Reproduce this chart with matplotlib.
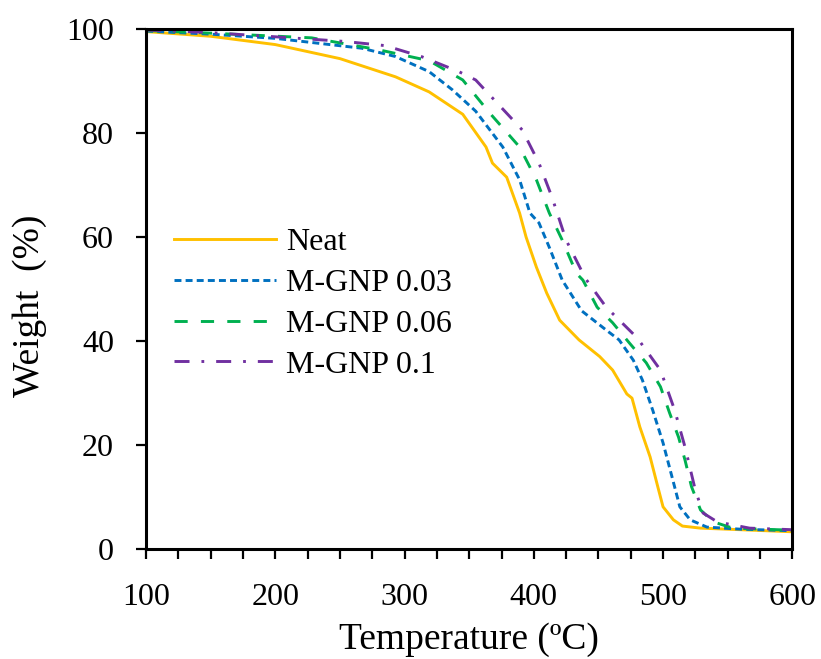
import matplotlib
matplotlib.use("Agg")
import matplotlib.pyplot as plt
from matplotlib.ticker import MultipleLocator

plt.rcParams['font.family'] = ['Liberation Serif', 'DejaVu Serif']
plt.rcParams['lines.scale_dashes'] = False

# Neat
neat_T = [100, 150, 200, 250, 293, 319, 345, 363, 368, 379, 389, 394, 402, 410, 420,
          435, 451, 461, 472, 476, 482, 490, 496, 500, 508, 515, 529, 560, 600]
neat_W = [99.5, 98.6, 97.0, 94.3, 90.8, 87.9, 83.6, 77.3, 74.2, 71.5, 64.6, 60.0, 54.2, 49.2, 44.0,
          40.2, 37.0, 34.4, 29.8, 29.0, 23.5, 17.7, 11.9, 8.1, 5.6, 4.4, 4.0, 3.7, 3.3]

# M-GNP 0.03
g003_T = [100, 150, 200, 267, 293, 319, 337, 355, 376, 389, 397, 404, 412, 422, 437,
          456, 466, 477, 484, 492, 500, 507, 513, 521, 534, 560, 600]
g003_W = [99.6, 99.0, 98.2, 96.3, 94.7, 91.8, 88.3, 84.2, 77.3, 71.0, 64.6, 62.7, 58.0, 51.7, 45.8,
          42.1, 40.2, 36.3, 32.5, 26.7, 20.4, 13.8, 8.1, 5.6, 4.2, 3.8, 3.5]

# M-GNP 0.06
g006_T = [100, 150, 228, 280, 319, 345, 366, 389, 402, 412, 422, 433, 438, 449, 461,
          474, 487, 498, 505, 512, 517, 522, 529, 539, 554, 600]
g006_W = [99.7, 99.2, 98.3, 96.0, 93.9, 90.2, 83.8, 77.3, 71.0, 64.6, 59.4, 53.0, 51.7, 46.5, 43.5,
          39.6, 35.8, 31.2, 26.2, 21.5, 17.1, 12.0, 7.5, 5.2, 4.0, 3.6]

# M-GNP 0.1
g01_T = [100, 150, 200, 254, 285, 313, 342, 355, 379, 391, 404, 414, 425, 440, 456,
         480, 498, 509, 517, 525, 531, 542, 567, 600]
g01_W = [99.8, 99.3, 98.5, 97.6, 96.8, 94.7, 91.8, 90.2, 83.8, 80.6, 74.2, 67.7, 59.4, 52.0, 46.5,
         40.6, 34.4, 26.7, 19.6, 11.3, 6.9, 5.2, 4.0, 3.7]

labels = ['Neat', 'M-GNP 0.03', 'M-GNP 0.06', 'M-GNP 0.1']
colors = ['#FFC000', '#0070C0', '#00B050', '#7030A0']

fig = plt.figure(figsize=(8.21, 6.59), dpi=100)
ax = fig.add_axes([0.178, 0.167, 0.787, 0.789])

lw = 2.1
ax.plot(neat_T, neat_W, color=colors[0], lw=lw, linestyle='-', label=labels[0])
ax.plot(g003_T, g003_W, color=colors[1], lw=lw, linestyle=(0, (5, 3)), label=labels[1])
ax.plot(g006_T, g006_W, color=colors[2], lw=lw, linestyle=(0, (9.5, 9.5)), label=labels[2])
ax.plot(g01_T, g01_W, color=colors[3], lw=lw, linestyle=(0, (10.8, 8.6, 2, 8.6)), label=labels[3])

ax.set_xlim(100, 600)
ax.set_ylim(0, 100)
ax.xaxis.set_major_locator(MultipleLocator(100))
ax.xaxis.set_minor_locator(MultipleLocator(25))
ax.yaxis.set_major_locator(MultipleLocator(20))
ax.tick_params(axis='both', which='both', direction='out', length=7.2, width=1.6, labelsize=23)
ax.tick_params(axis='x', which='major', pad=17)
ax.tick_params(axis='y', which='major', pad=16)
ax.tick_params(axis='y', which='minor', left=False)
for s in ax.spines.values():
    s.set_linewidth(2.2)
    s.set_color('black')

ax.set_xlabel('Temperature (\u00baC)', fontsize=27, labelpad=8)
ax.set_ylabel('Weight  (%)', fontsize=27)
ax.yaxis.set_label_coords(-0.153, 0.467)

leg = ax.legend(loc='upper left', bbox_to_anchor=(0.043, 0.618), frameon=False, fontsize=23,
                handlelength=3.2, handletextpad=0.3, labelspacing=0.36, borderaxespad=0,
                borderpad=0)

fig.savefig('out.png', dpi=100)
